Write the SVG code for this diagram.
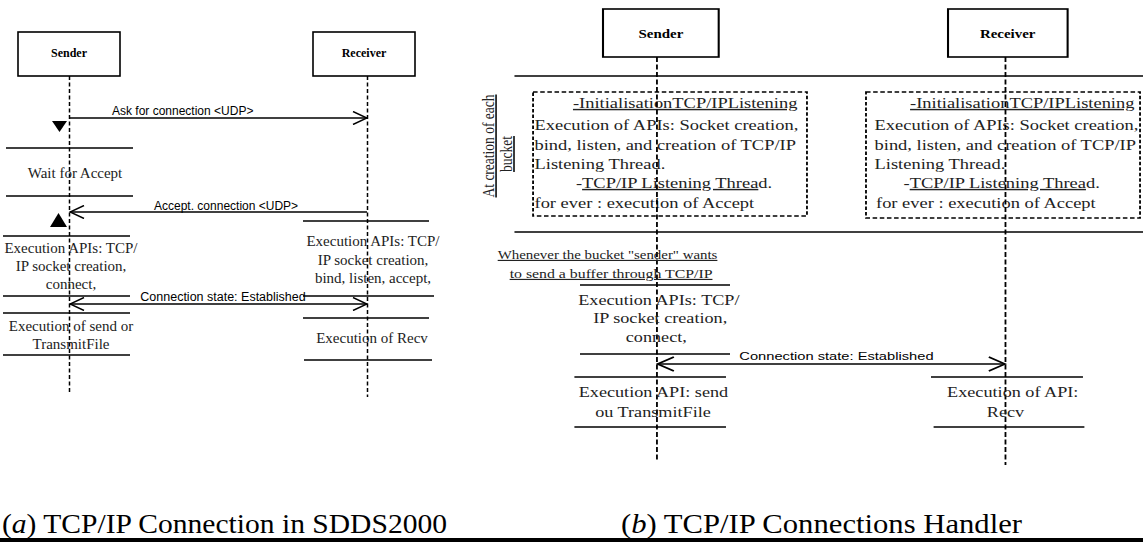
<svg xmlns="http://www.w3.org/2000/svg" width="1143" height="542" viewBox="0 0 1143 542">
<style>
.box{fill:#fff;stroke:#000;stroke-width:1.6}
.life{stroke:#000;stroke-width:1.5;stroke-dasharray:4,2.5;fill:none}
.lifeb{stroke:#000;stroke-width:1.4;stroke-dasharray:5,2.5;fill:none}
.msg{stroke:#000;stroke-width:1.5;fill:none}
.bar{stroke:#000;stroke-width:1.6}
.dbox{fill:none;stroke:#000;stroke-width:1.4;stroke-dasharray:3.5,2}
.hdr{font-family:"Liberation Serif",serif;font-weight:bold;font-size:12px;text-anchor:middle}
.sv{font-family:"Liberation Serif",serif;font-size:15px;fill:#222}
.bt{font-family:"Liberation Serif",serif;font-size:14.2px;fill:#222}
.bc{font-family:"Liberation Serif",serif;font-size:14px;fill:#222;text-anchor:middle}
.c{text-anchor:middle}
.sans{font-family:"Liberation Sans",Arial,sans-serif;fill:#000}
.u{text-decoration:underline}
.cap{font-family:"Liberation Serif","Times New Roman",serif;font-size:27px;fill:#000}
</style>
<defs>
<marker id="open" markerWidth="16" markerHeight="14" refX="15" refY="7" orient="auto-start-reverse" markerUnits="userSpaceOnUse">
<path d="M1,0.5 L15,7 L1,13.5" fill="none" stroke="#000" stroke-width="1.5"/>
</marker>
<marker id="openb" markerWidth="15" markerHeight="16" refX="13.5" refY="8" orient="auto-start-reverse" markerUnits="userSpaceOnUse">
<path d="M1,1 L13.5,8 L1,15" fill="none" stroke="#000" stroke-width="1.5"/>
</marker>
</defs>
<rect width="1143" height="542" fill="#fff"/>

<!-- Panel (a) -->
<g id="a-sender"><rect class="box" x="18" y="32" width="102" height="44"/><text class="hdr" x="69" y="57">Sender</text></g>
<g id="a-receiver"><rect class="box" x="313" y="32" width="102" height="44"/><text class="hdr" x="364" y="57">Receiver</text></g>

<g id="a-connectors">
<line class="life" x1="69.5" y1="76" x2="69.5" y2="394"/>
<line class="life" x1="367.5" y1="76" x2="367.5" y2="397"/>
<line class="msg" x1="69.5" y1="118" x2="367" y2="118" marker-end="url(#open)"/>
<line class="msg" x1="367" y1="212" x2="70" y2="212" marker-end="url(#open)"/>
<line class="msg" x1="70" y1="304" x2="367" y2="304" marker-start="url(#open)" marker-end="url(#open)"/>
<text class="sans" x="112" y="115" font-size="12">Ask for connection &lt;UDP&gt;</text>
<text class="sans" x="154" y="210" font-size="12">Accept. connection &lt;UDP&gt;</text>
<text class="sans" x="223" y="301" font-size="12.5" text-anchor="middle">Connection state: Established</text>
</g>

<g id="a-wait">
<polygon points="52,121 67,121 59.5,132" fill="#000"/>
<line class="bar" x1="6" y1="148" x2="133" y2="148"/>
<text class="sv c" x="75" y="178">Wait for Accept</text>
<line class="bar" x1="6" y1="196" x2="133" y2="196"/>
</g>

<g id="a-sender-connect">
<polygon points="50,227 67,227 58.5,213" fill="#000"/>
<line class="bar" x1="3" y1="236" x2="130" y2="236"/>
<text class="sv c" x="71" y="253">Execution APIs: TCP/</text>
<text class="sv c" x="71" y="271">IP socket creation,</text>
<text class="sv c" x="71" y="289">connect,</text>
<line class="bar" x1="3" y1="296" x2="130" y2="296"/>
</g>

<g id="a-sender-send">
<line class="bar" x1="3" y1="313" x2="130" y2="313"/>
<text class="sv c" x="71" y="331">Execution of send or</text>
<text class="sv c" x="71" y="349">TransmitFile</text>
<line class="bar" x1="3" y1="355" x2="130" y2="355"/>
</g>

<g id="a-receiver-listen">
<line class="bar" x1="303" y1="221" x2="429" y2="221"/>
<text class="sv c" x="373" y="246">Execution APIs: TCP/</text>
<text class="sv c" x="373" y="265">IP socket creation,</text>
<text class="sv c" x="373" y="283">bind, listen, accept,</text>
<line class="bar" x1="303" y1="296" x2="434" y2="296"/>
</g>

<g id="a-receiver-recv">
<line class="bar" x1="303" y1="318" x2="429" y2="318"/>
<text class="sv c" x="372" y="343">Execution of Recv</text>
<line class="bar" x1="304" y1="360" x2="432" y2="360"/>
</g>

<!-- Panel (b), horizontally stretched like the reference -->
<g id="panel-b" transform="translate(460,0) scale(1.3,1)">
<g id="b-sender"><rect class="box" x="110" y="9" width="89" height="48"/><text class="hdr" x="154.6" y="38" style="font-size:11.5px">Sender</text></g>
<g id="b-receiver"><rect class="box" x="375.4" y="9" width="92" height="48"/><text class="hdr" x="421.3" y="38" style="font-size:11.5px">Receiver</text></g>

<g id="b-phases">
<line class="bar" x1="41.9" y1="76" x2="525.4" y2="76"/>
<line class="bar" x1="41.9" y1="232" x2="525.4" y2="232"/>
<text class="c u" font-family="Liberation Serif, serif" font-size="13.5" fill="#222" transform="translate(26.2,146) rotate(-90)">At creation of each</text>
<text class="c u" font-family="Liberation Serif, serif" font-size="13.5" fill="#222" transform="translate(40,154) rotate(-90)">bucket</text>
</g>

<g id="b-sender-init">
<rect class="dbox" x="56.2" y="92" width="210.7" height="124"/>
<text class="bt u" x="86.9" y="108">-InitialisationTCP/IPListening</text>
<text class="bt" x="57.3" y="130">Execution of APIs: Socket creation,</text>
<text class="bt" x="57.3" y="150">bind, listen, and creation of TCP/IP</text>
<text class="bt" x="57.3" y="169">Listening Thread.</text>
<text class="bt" x="89.2" y="188">-<tspan class="u">TCP/IP Listening Threa</tspan>d.</text>
<text class="bt" x="57.3" y="208">for ever : execution of  Accept</text>
</g>

<g id="b-receiver-init">
<rect class="dbox" x="312.3" y="92" width="210.8" height="126"/>
<text class="bt u" x="346.2" y="108">-InitialisationTCP/IPListening</text>
<text class="bt" x="318.9" y="130">Execution of APIs: Socket creation,</text>
<text class="bt" x="318.9" y="150">bind, listen, and creation of TCP/IP</text>
<text class="bt" x="318.9" y="169">Listening Thread.</text>
<text class="bt" x="341.2" y="188">-<tspan class="u">TCP/IP Listening Threa</tspan>d.</text>
<text class="bt" x="320" y="208">for ever : execution of  Accept</text>
</g>

<g id="b-connectors">
<line class="lifeb" x1="151.5" y1="57" x2="151.5" y2="462"/>
<line class="lifeb" x1="419.6" y1="57" x2="419.6" y2="465"/>
<line class="msg" x1="152" y1="364" x2="419.3" y2="364" marker-start="url(#openb)" marker-end="url(#openb)"/>
<text class="sans" x="214.9" y="360" font-size="11.3">Connection state: Established</text>
</g>

<g id="b-sender-connect">
<text class="u" font-family="Liberation Serif, serif" font-size="11.6" fill="#222" x="29" y="259" textLength="169" lengthAdjust="spacingAndGlyphs">Whenever the bucket "sender" wants</text>
<text class="u" font-family="Liberation Serif, serif" font-size="11.6" fill="#222" x="38.2" y="278" textLength="156" lengthAdjust="spacingAndGlyphs">to send a buffer through TCP/IP</text>
<line class="bar" x1="92.3" y1="285" x2="207.7" y2="285"/>
<text class="bc" x="153" y="305">Execution APIs: TCP/</text>
<text class="bc" x="154" y="323">IP socket creation,</text>
<text class="bc" x="151" y="342">connect,</text>
<line class="bar" x1="92.3" y1="354" x2="207.7" y2="354"/>
</g>

<g id="b-sender-send">
<line class="bar" x1="88" y1="377" x2="204.6" y2="377"/>
<text class="bc" x="148.8" y="397">Execution API: send</text>
<text class="bc" x="148.5" y="417">ou TransmitFile</text>
<line class="bar" x1="88" y1="427" x2="204.6" y2="427"/>
</g>

<g id="b-receiver-recv">
<line class="bar" x1="362.3" y1="377" x2="479.2" y2="377"/>
<text class="bc" x="425.2" y="397">Execution of API:</text>
<text class="bc" x="419.6" y="417">Recv</text>
<line class="bar" x1="364.3" y1="427" x2="480.3" y2="427"/>
</g>
</g>

<!-- Captions -->
<text class="cap" x="2" y="533" textLength="445" lengthAdjust="spacingAndGlyphs">(<tspan font-style="italic">a</tspan>) TCP/IP Connection in SDDS2000</text>
<text class="cap" x="621" y="533" textLength="401" lengthAdjust="spacingAndGlyphs">(<tspan font-style="italic">b</tspan>) TCP/IP Connections Handler</text>
<rect x="0" y="538" width="1143" height="4" fill="#000"/>
</svg>
